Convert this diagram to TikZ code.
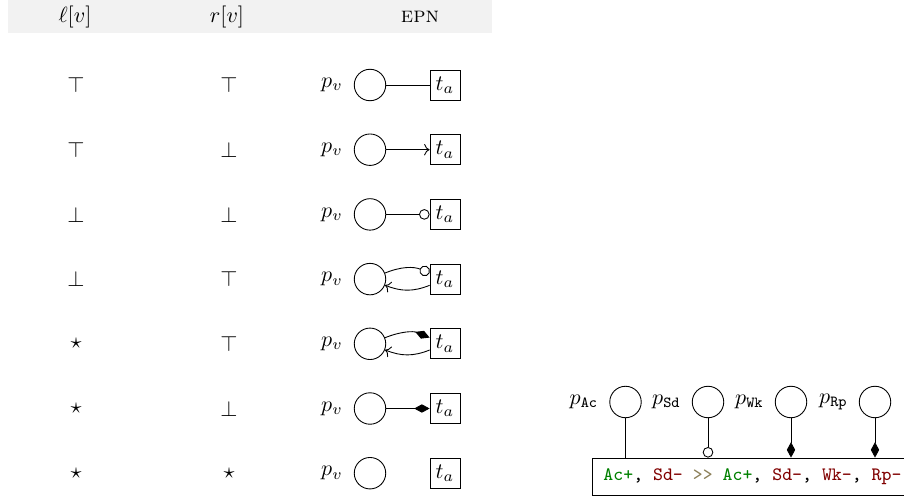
\documentclass[tikz,border=0pt]{standalone}
\usepackage{fontspec}
\usepackage{amsmath,amssymb}
\usetikzlibrary{arrows.meta,positioning}
\definecolor{headgray}{gray}{0.95}
\definecolor{addgreen}{rgb}{0,0.5,0}
\definecolor{delred}{rgb}{0.5,0,0}
\definecolor{seqolive}{rgb}{0.55,0.5,0.35}

\tikzset{
  place/.style={circle,draw,minimum size=14.3pt,inner sep=0pt},
  trans/.style={rectangle,draw,minimum size=13.6pt,inner sep=2pt},
  inhib/.style={-{Circle[open,length=4.8pt]}},
  readarc/.style={-{Diamond[length=7pt,width=3.8pt]}},
  plabel/.style={label={[label distance=1.5pt]left:#1}},
}

\begin{document}
\begin{tikzpicture}[x=0.4545pt,y=-0.4545pt]
\useasboundingbox (0,0) rectangle (904,500);
% table head
\fill[headgray] (8,0) rectangle (492,33);
\node (hl) at (75,17) {$\ell[v]$};
\node (hr) at (227,17) {$r[v]$};
\node (he) at (420,17) {\textsc{epn}};

% rows
\foreach \l/\r [count=\i] in {\top/\top,\top/\bot,\bot/\bot,\bot/\top,\star/\top,\star/\bot,\star/\star} {
  \pgfmathsetmacro\y{85+64.7*(\i-1)}
  \node (l\i) at (76,\y) {$\l$};
  \node (r\i) at (229,\y) {$\r$};
  \node[place,plabel={$p_v$}] (p\i) at (370,\y) {};
  \node[trans] (t\i) at (445,\y) {$t_a$};
}
\draw (p1) -- (t1);
\draw[->] (p2) -- (t2);
\draw[inhib] (p3) -- (t3);
\draw[inhib] (p4) to[bend left=22] (t4);
\draw[->] (t4) to[bend left=22] (p4);
\draw[readarc] (p5) to[bend left=22] (t5);
\draw[->] (t5) to[bend left=22] (p5);
\draw[readarc] (p6) -- (t6);

% update transition
\node[draw,anchor=west,minimum height=16.8pt,inner xsep=5pt] (upd) at (592,476.5)
  {\fontsize{8.6}{10}\selectfont\ttfamily
   \textcolor{addgreen}{Ac+}, \textcolor{delred}{Sd-} \textcolor{seqolive}{>>}
   \textcolor{addgreen}{Ac+}, \textcolor{delred}{Sd-}, \textcolor{delred}{Wk-}, \textcolor{delred}{Rp-}};
\foreach \n/\x in {Ac/625.5,Sd/708,Wk/791,Rp/875}
  \node[place,plabel={$p_{\mathtt{\n}}$}] (p\n) at (\x,402) {};
\draw (pAc) -- (pAc |- upd.north);
\draw[inhib] (pSd) -- (pSd |- upd.north);
\draw[readarc] (pWk) -- (pWk |- upd.north);
\draw[readarc] (pRp) -- (pRp |- upd.north);
\end{tikzpicture}
\end{document}
